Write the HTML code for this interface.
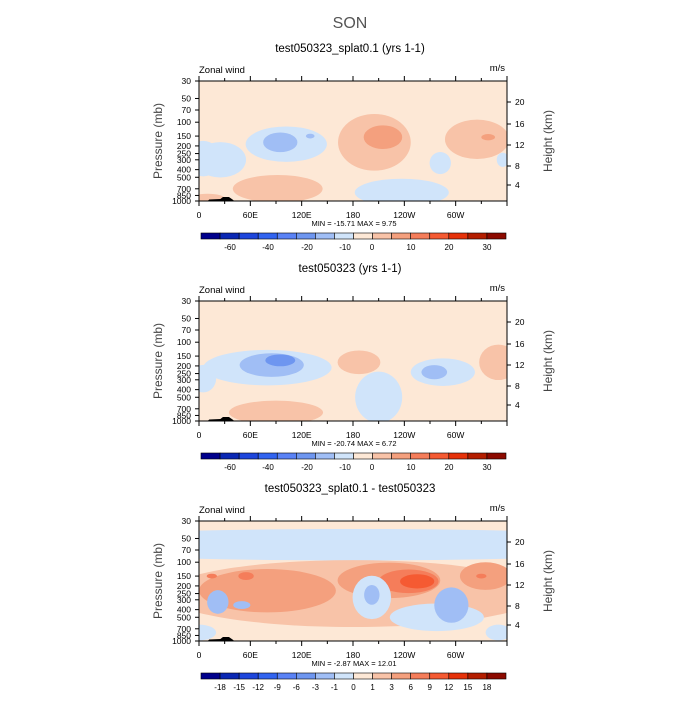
<!DOCTYPE html>
<html><head><meta charset="utf-8"><style>
body{margin:0;background:#fff}
svg{font-family:"Liberation Sans",sans-serif}
</style></head><body>
<svg id="c" width="700" height="700"></svg>
<script>
// ---- data ----
const yTicks=[30,50,70,100,150,200,250,300,400,500,700,850,1000];
const xTickLabels=["0","60E","120E","180","120W","60W"];
const kmTicks=[20,16,12,8,4];
const titles=["test050323_splat0.1 (yrs 1-1)","test050323 (yrs 1-1)","test050323_splat0.1 - test050323"];
const minmax=["MIN = -15.71   MAX =    9.75","MIN = -20.74   MAX =    6.72","MIN =   -2.87   MAX =   12.01"];
const cbLabels1=["-60","-40","-20","-10","0","10","20","30"];
const cbLabels3=["-18","-15","-12","-9","-6","-3","-1","0","1","3","6","9","12","15","18"];
// blobs: lon center, pressure center, lon width, log10 height, color class (index into palette)
const p1Lon=[25,180,330,102,5,237,282,355,205,215,325,338,92,10,95,130];
const p1P=[300,200,600,190,290,780,330,300,180,155,165,155,700,930,180,150];
const p1W=[60,150,40,95,40,110,25,14,85,45,75,16,105,40,40,10];
const p1H=[0.45,0.45,0.3,0.45,0.45,0.35,0.28,0.18,0.72,0.3,0.5,0.08,0.35,0.12,0.25,0.06];
const p1V=[7,8,8,7,7,7,7,7,9,10,9,10,9,9,6,6];
const p2Lon=[80,5,210,285,187,350,90,85,95,275];
const p2P=[210,290,500,240,180,180,780,195,170,240];
const p2W=[150,30,55,75,50,45,110,75,35,30];
const p2H=[0.45,0.35,0.65,0.35,0.3,0.45,0.3,0.3,0.15,0.18];
const p2V=[7,7,7,7,9,9,9,6,5,6];
const p3Lon=[180,180,80,222,335,245,255,22,202,202,278,295,0,350,15,55,330,50];
const p3P=[60,250,230,170,150,175,175,320,280,260,500,350,780,780,150,150,150,350];
const p3W=[800,440,160,120,60,70,40,25,45,18,110,40,40,30,12,18,12,20];
const p3H=[0.4,0.85,0.55,0.45,0.35,0.3,0.18,0.3,0.55,0.25,0.35,0.45,0.2,0.2,0.06,0.1,0.06,0.1];
const p3V=[7,9,10,10,10,11,12,6,7,6,7,6,7,7,11,11,11,6];
// ---- drawing ----
const pal=["#00008c","#0a28b4","#1e46dc","#3264f0","#5a82f5","#6e96f0","#a0bef5","#d0e4fa","#fde8d6","#f8c3a8","#f4a07e","#f57d5a","#f55a32","#e6320a","#b41e00","#8c0a00"];
const S=document.getElementById('c');const NS="http://www.w3.org/2000/svg";
function E(t,a,p){const e=document.createElementNS(NS,t);for(const k in a)e.setAttribute(k,a[k]);(p||S).appendChild(e);return e;}
function T(x,y,s,sz,anc,p,fill){const e=E('text',{x:x,y:y,'font-size':sz,'text-anchor':anc||'middle',fill:fill||'#000'},p);e.textContent=s;return e;}
const X0=199,X1=507,H=120;
const lg=Math.log(1000/30);
const st=T(350,28,"SON",16,'middle',S,'#555');
function panel(i,lon,pp,w,h,v,cbl,cbx){
  const Y0=81+i*220,Y1=Y0+H;
  const xs=l=>X0+l/360*(X1-X0);
  const ys=p=>Y1-Math.log(1000/p)/lg*H;
  const g=E('g',{});
  const t=T(350,Y0-29,titles[i],11.5,'middle',g);
  E('clipPath',{id:'cl'+i},g).appendChild(E('rect',{x:X0,y:Y0,width:X1-X0,height:H},g));
  const pg=E('g',{'clip-path':'url(#cl'+i+')'},g);
  E('rect',{x:X0,y:Y0,width:X1-X0,height:H,fill:pal[8]},pg);
  for(let k=0;k<lon.length;k++){
    const cy=ys(pp[k]);const ry=h[k]/Math.log10(1000/30)*H/2;
    const el=E('ellipse',{cx:xs(lon[k]),cy:cy,rx:w[k]/360*(X1-X0)/2,ry:ry,fill:pal[v[k]]},pg);
    
  }
  const land=E('path',{d:`M${xs(10)} ${Y1} L${xs(12)} ${Y1-1.5} L${xs(25)} ${Y1-2} L${xs(28)} ${Y1-4} L${xs(35)} ${Y1-4} L${xs(40)} ${Y1-1} L${xs(41)} ${Y1} Z`,fill:'#000'},pg);
  
  E('rect',{x:X0,y:Y0,width:X1-X0,height:H,fill:'none',stroke:'#000','stroke-width':1},g);
  for(let l=0;l<=360;l+=30){const x=xs(l);const mj=l%60==0;
    E('line',{x1:x,y1:Y1,x2:x,y2:Y1+(mj?5:3),stroke:'#000'},g);
    E('line',{x1:x,y1:Y0,x2:x,y2:Y0-(mj?5:3),stroke:'#000'},g);
    if(mj&&l<360)T(x,Y1+17,xTickLabels[l/60],8.5,'middle',g);}
  yTicks.forEach(p=>{const y=ys(p);E('line',{x1:X0,y1:y,x2:X0-4,y2:y,stroke:'#000'},g);T(X0-8,y+3,String(p),8.5,'end',g);});
  const hy=[102,124,145,166,185];
  kmTicks.forEach((k,j)=>{const y=hy[j]+i*220;E('line',{x1:X1,y1:y,x2:X1+4,y2:y,stroke:'#000'},g);T(X1+8,y+3,String(k),8.5,'start',g);});
  T(X0,Y0-8,"Zonal wind",9.5,'start',g);T(X1-2,Y0-10,"m/s",9.5,'end',g);
  const a=T(0,0,"Pressure (mb)",12,'middle',g,'#444');a.setAttribute('transform',`translate(162,${Y0+60}) rotate(-90)`);
  const b=T(0,0,"Height (km)",12,'middle',g,'#444');b.setAttribute('transform',`translate(552,${Y0+60}) rotate(-90)`);
  T(354,Y1+25,minmax[i],7.5,'middle',g);
  const cy=Y1+32,cw=(506-201)/16;
  for(let k=0;k<16;k++){const r=E('rect',{x:201+k*cw,y:cy,width:cw,height:6,fill:pal[k],stroke:'#000','stroke-width':0.6},g);
    }
  cbl.forEach((s,j)=>T(cbx(j),cy+17,s,8,'middle',g));
}
panel(0,p1Lon,p1P,p1W,p1H,p1V,cbLabels1,j=>[230,268,307,345,372,411,449,487][j]);
panel(1,p2Lon,p2P,p2W,p2H,p2V,cbLabels1,j=>[230,268,307,345,372,411,449,487][j]);
panel(2,p3Lon,p3P,p3W,p3H,p3V,cbLabels3,j=>201+(j+1)*(305/16));
</script>
</body></html>
